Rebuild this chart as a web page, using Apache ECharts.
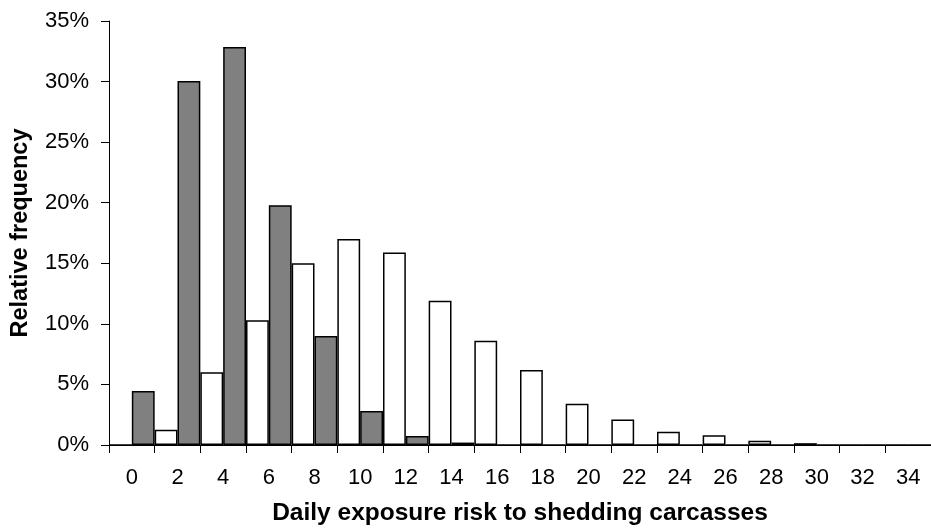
<!DOCTYPE html>
<html>
<head>
<meta charset="utf-8">
<script src="https://cdn.jsdelivr.net/npm/echarts@6/dist/echarts.min.js"></script>
<style>
html,body{margin:0;padding:0;background:#fff;}
#c{width:931px;height:531px;}
</style>
</head>
<body>
<div id="c"></div>
<script>
var categories = ['0','2','4','6','8','10','12','14','16','18','20','22','24','26','28','30','32','34'];
var whiteSeries = [0, 1.25, 6.0, 10.3, 15.0, 17.0, 15.9, 11.9, 8.6, 6.2, 3.4, 2.1, 1.1, 0.8, 0.35, 0.15, 0, 0];
var graySeries = [4.45, 30.05, 32.85, 19.8, 9.0, 2.8, 0.75, 0.2, 0, 0, 0, 0, 0, 0, 0, 0, 0, 0];
var xTitle = 'Daily exposure risk to shedding carcasses';
var yTitle = 'Relative frequency';

var chart = echarts.init(document.getElementById('c'));
var FONT = '"Liberation Sans", Arial, sans-serif';
chart.setOption({
  animation: false,
  backgroundColor: '#fff',
  grid: {left: 109, right: -7, top: 21, bottom: 85, containLabel: false},
  xAxis: {
    type: 'category',
    data: categories,
    boundaryGap: true,
    name: xTitle,
    nameLocation: 'middle',
    nameGap: 56,
    nameTextStyle: {fontFamily: FONT, fontSize: 24.5, fontWeight: 'bold', color: '#000'},
    axisLine: {show: true, lineStyle: {color: '#000', width: 1}},
    axisTick: {show: true, length: 8, interval: 0, lineStyle: {color: '#000'}},
    axisLabel: {interval: 0, margin: 22, fontFamily: FONT, fontSize: 22, color: '#000'},
    splitLine: {show: false}
  },
  yAxis: {
    type: 'value',
    min: 0, max: 35, interval: 5,
    name: yTitle,
    nameLocation: 'middle',
    nameGap: 76,
    nameRotate: 90,
    nameTextStyle: {fontFamily: FONT, fontSize: 23.5, fontWeight: 'bold', color: '#000'},
    axisLine: {show: true, lineStyle: {color: '#000', width: 1}},
    axisTick: {show: true, length: 8, lineStyle: {color: '#000'}},
    axisLabel: {margin: 20, fontFamily: FONT, fontSize: 22, color: '#000', formatter: '{value}%'},
    splitLine: {show: false}
  },
  series: [
    {
      type: 'bar',
      data: whiteSeries,
      barGap: '0%',
      barCategoryGap: '0%',
      itemStyle: {color: '#fff', borderColor: '#000', borderWidth: 1.5}
    },
    {
      type: 'bar',
      data: graySeries,
      barGap: '0%',
      barCategoryGap: '0%',
      itemStyle: {color: '#808080', borderColor: '#000', borderWidth: 1.5}
    }
  ]
});
</script>
</body>
</html>
